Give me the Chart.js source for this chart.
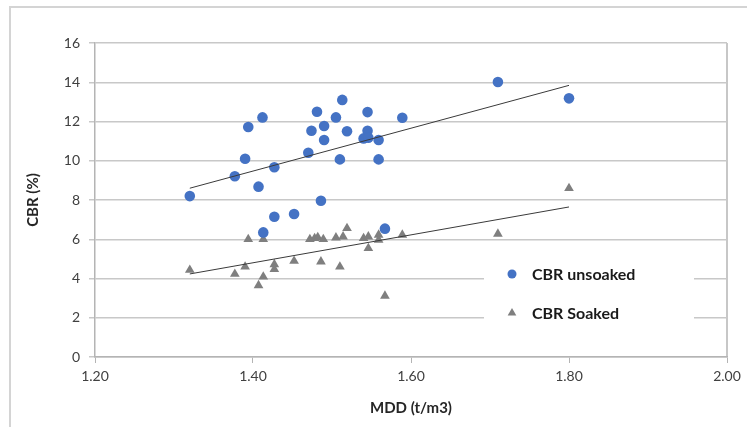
<!DOCTYPE html>
<html>
<head>
<meta charset="utf-8">
<script src="https://cdn.jsdelivr.net/npm/chart.js@4.4.1/dist/chart.umd.min.js"></script>
<style>
  body { margin: 0; background: #fff; }
  canvas { display: block; }
</style>
</head>
<body>
<canvas id="cbr-chart" width="747" height="427"></canvas>
<script>
// MDD (t/m3) vs CBR (%), unsoaked and soaked samples
const mddUnsoaked = [1.320, 1.377, 1.390, 1.394, 1.407, 1.412, 1.413, 1.427, 1.427, 1.452,
                     1.470, 1.474, 1.481, 1.486, 1.490, 1.490, 1.505, 1.510, 1.513, 1.519,
                     1.540, 1.545, 1.545, 1.546, 1.559, 1.559, 1.567, 1.589, 1.710, 1.800];
const cbrUnsoaked = [8.20, 9.21, 10.10, 11.72, 8.68, 12.21, 6.35, 9.67, 7.15, 7.29,
                     10.41, 11.53, 12.50, 7.96, 11.77, 11.06, 12.21, 10.07, 13.10, 11.50,
                     11.14, 12.48, 11.53, 11.17, 11.06, 10.07, 6.54, 12.19, 14.01, 13.18];

const mddSoaked = [1.320, 1.377, 1.390, 1.394, 1.407, 1.413, 1.413, 1.427, 1.427, 1.452,
                   1.472, 1.478, 1.482, 1.486, 1.489, 1.505, 1.510, 1.514, 1.519, 1.540,
                   1.546, 1.546, 1.559, 1.559, 1.567, 1.589, 1.710, 1.800];
const cbrSoaked = [4.43, 4.23, 4.60, 6.00, 3.65, 6.00, 4.09, 4.72, 4.47, 4.89,
                   6.00, 6.05, 6.10, 4.86, 6.00, 6.08, 4.60, 6.13, 6.56, 6.05,
                   6.13, 5.54, 6.22, 5.96, 3.11, 6.22, 6.27, 8.60];

const xTicks = [1.2, 1.4, 1.6, 1.8, 2.0];
const yTicks = [0, 2, 4, 6, 8, 10, 12, 14, 16];

const BLUE = '#4472C4';
const GRAY = '#7F7F7F';
const FONT = 'Lato, "Open Sans", sans-serif';

function toPoints(xs, ys) {
    return xs.map((x, i) => ({ x: x, y: ys[i] }));
}

// least-squares fit drawn across the series' own x range
function trendline(xs, ys) {
    const n = xs.length;
    const mx = xs.reduce((a, b) => a + b, 0) / n;
    const my = ys.reduce((a, b) => a + b, 0) / n;
    let sxy = 0, sxx = 0;
    xs.forEach((x, i) => {
        sxy += (x - mx) * (ys[i] - my);
        sxx += (x - mx) * (x - mx);
    });
    const slope = sxy / sxx;
    const x0 = Math.min(...xs), x1 = Math.max(...xs);
    return [
        { x: x0, y: my + slope * (x0 - mx) },
        { x: x1, y: my + slope * (x1 - mx) }
    ];
}

// outer frame, plus the right edge of the plot box
const framePlugin = {
    id: 'frame',
    beforeDraw(chart) {
        const { ctx, chartArea } = chart;
        ctx.save();
        ctx.strokeStyle = '#d4d4d4';
        ctx.lineWidth = 2;
        ctx.beginPath();
        ctx.moveTo(10, chart.height);
        ctx.lineTo(10, 7);
        ctx.lineTo(chart.width, 7);
        ctx.stroke();
        ctx.strokeStyle = '#b4b4b4';
        ctx.lineWidth = 1.5;
        ctx.beginPath();
        ctx.moveTo(chartArea.right, chartArea.top);
        ctx.lineTo(chartArea.right, chartArea.bottom);
        ctx.stroke();
        ctx.restore();
    }
};

// legend sits inside the plot, lower right, on a white patch
const insideLegend = {
    id: 'insideLegend',
    afterDraw(chart) {
        const { ctx } = chart;
        const sets = chart.data.datasets.filter(d => d.showInLegend);
        ctx.save();
        ctx.fillStyle = '#fff';
        ctx.fillRect(484, 256, 210, 80);
        ctx.font = 'bold 16px ' + FONT;
        ctx.textBaseline = 'middle';
        ctx.textAlign = 'left';
        sets.forEach((ds, i) => {
            const y = 274 + i * 39;
            ctx.fillStyle = ds.backgroundColor;
            ctx.strokeStyle = ds.borderColor;
            Chart.helpers.drawPoint(ctx, {
                pointStyle: ds.pointStyle,
                radius: ds.pointStyle === 'triangle' ? 5 : 4.5,
                borderWidth: 0
            }, 512, y);
            ctx.fillStyle = '#1a1a1a';
            ctx.fillText(ds.label, 532, y + 1);
        });
        ctx.restore();
    }
};

new Chart(document.getElementById('cbr-chart'), {
    type: 'scatter',
    data: {
        datasets: [
            {
                label: 'CBR unsoaked',
                data: toPoints(mddUnsoaked, cbrUnsoaked),
                backgroundColor: BLUE,
                borderColor: BLUE,
                pointStyle: 'circle',
                pointRadius: 5.3,
                borderWidth: 0,
                showInLegend: true,
                order: 2
            },
            {
                label: 'CBR Soaked',
                data: toPoints(mddSoaked, cbrSoaked),
                backgroundColor: GRAY,
                borderColor: GRAY,
                pointStyle: 'triangle',
                pointRadius: 5.6,
                borderWidth: 0,
                showInLegend: true,
                order: 2
            },
            {
                type: 'line',
                label: 'unsoaked trend',
                data: trendline(mddUnsoaked, cbrUnsoaked),
                borderColor: '#3a3a3a',
                borderWidth: 1,
                pointRadius: 0,
                fill: false,
                order: 1
            },
            {
                type: 'line',
                label: 'soaked trend',
                data: trendline(mddSoaked, cbrSoaked),
                borderColor: '#3a3a3a',
                borderWidth: 1,
                pointRadius: 0,
                fill: false,
                order: 1
            }
        ]
    },
    options: {
        responsive: false,
        animation: false,
        layout: {
            padding: { top: 43, right: 20, bottom: 0, left: 0 }
        },
        scales: {
            x: {
                type: 'linear',
                min: 1.2,
                max: 2.0,
                afterBuildTicks: scale => { scale.ticks = xTicks.map(v => ({ value: v })); },
                afterFit: scale => { scale.height = 70; },
                ticks: {
                    padding: 5,
                    color: '#404040',
                    font: { family: FONT, size: 14 },
                    callback: v => v.toFixed(2)
                },
                grid: {
                    drawOnChartArea: false,
                    drawTicks: true,
                    tickLength: 6,
                    color: '#b4b4b4'
                },
                border: { display: true, color: '#b4b4b4', width: 1.5 },
                title: {
                    display: true,
                    text: 'MDD (t/m3)',
                    color: '#262626',
                    font: { family: FONT, size: 15, weight: 'bold' },
                    padding: { top: 0, bottom: 10 }
                }
            },
            y: {
                min: 0,
                max: 16,
                afterBuildTicks: scale => { scale.ticks = yTicks.map(v => ({ value: v })); },
                afterFit: scale => { scale.width = 95; },
                ticks: {
                    padding: 9,
                    color: '#404040',
                    font: { family: FONT, size: 14 }
                },
                grid: {
                    color: '#c8c8c8',
                    lineWidth: 1.5,
                    tickLength: 6
                },
                border: { display: true, color: '#b4b4b4', width: 1.5 },
                title: {
                    display: true,
                    text: 'CBR (%)',
                    color: '#262626',
                    font: { family: FONT, size: 15, weight: 'bold' },
                    padding: { top: 24, bottom: 0 }
                }
            }
        },
        plugins: {
            legend: { display: false },
            tooltip: { enabled: false }
        }
    },
    plugins: [framePlugin, insideLegend]
});
</script>
</body>
</html>
